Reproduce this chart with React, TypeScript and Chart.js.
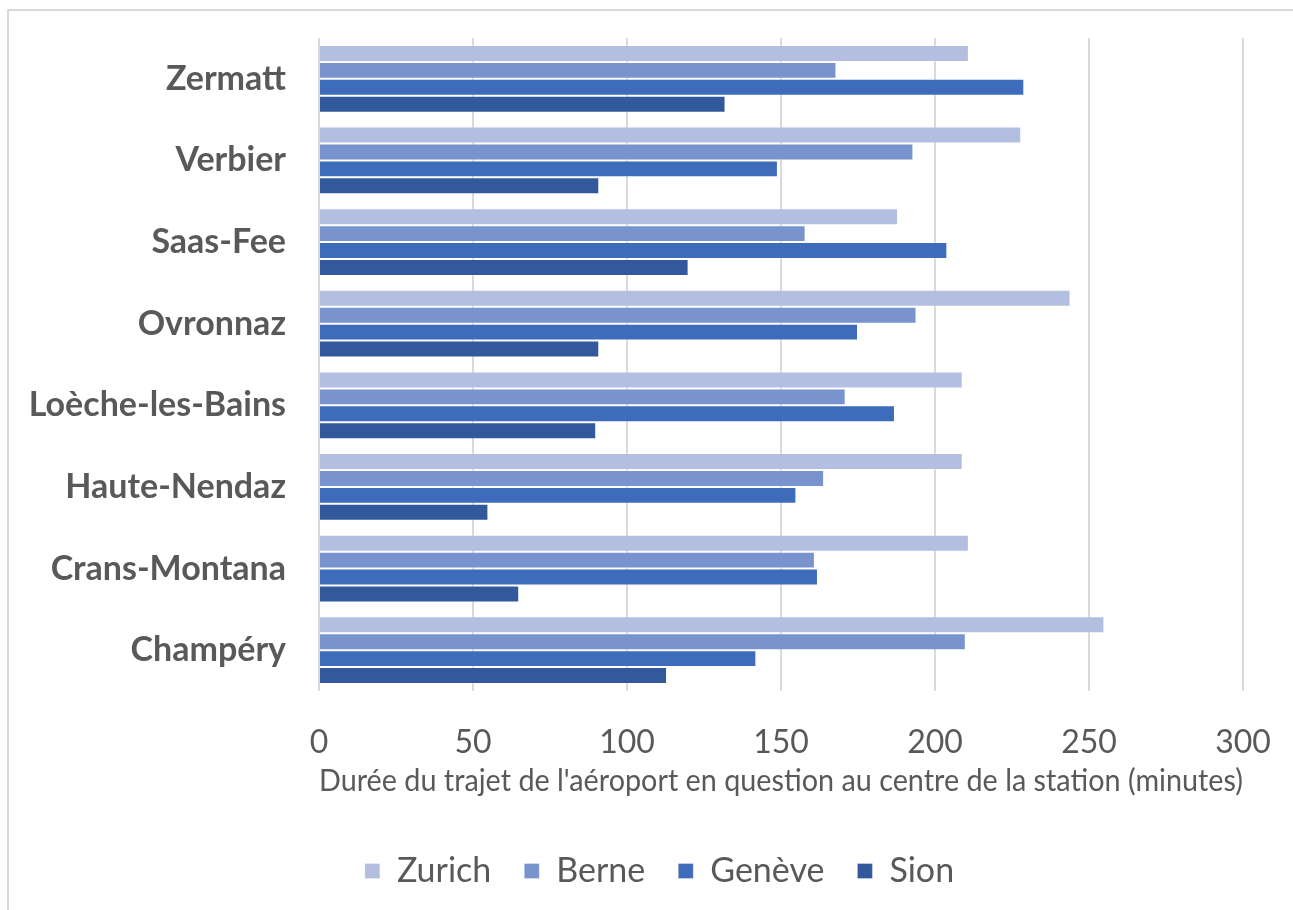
import React, { useEffect, useRef } from "react";
import { Chart, registerables } from "chart.js";

Chart.register(...registerables);

// Ski resorts, top to bottom
const resorts = [
  "Zermatt",
  "Verbier",
  "Saas-Fee",
  "Ovronnaz",
  "Loèche-les-Bains",
  "Haute-Nendaz",
  "Crans-Montana",
  "Champéry",
];

// Travel time (minutes) from each airport to the resort centre
const zurich = [211, 228, 188, 244, 209, 209, 211, 255];
const berne = [168, 193, 158, 194, 171, 164, 161, 210];
const geneve = [229, 149, 204, 175, 187, 155, 162, 142];
const sion = [132, 91, 120, 91, 90, 55, 65, 113];

const seriesNames = ["Zurich", "Berne", "Genève", "Sion"];
const seriesColors = ["#b3bee0", "#7993cf", "#3f6cba", "#31599b"];

const axisTitle =
  "Durée du trajet de l'aéroport en question au centre de la station (minutes)";

const FONT = "Lato, 'Open Sans', sans-serif";
const TEXT = "#595959";

// Light frame along the top and left of the chart
const framePlugin = {
  id: "frame",
  beforeDraw(chart: any) {
    const { ctx } = chart;
    ctx.save();
    ctx.strokeStyle = "#d9d9d9";
    ctx.lineWidth = 2;
    ctx.beginPath();
    ctx.moveTo(8, 910);
    ctx.lineTo(8, 10);
    ctx.lineTo(1293, 10);
    ctx.stroke();
    ctx.restore();
  },
};

// Centre the legend row on the whole frame rather than on the padded area
const legendShiftPlugin = {
  id: "legendShift",
  afterLayout(chart: any) {
    const lg = chart.legend;
    if (lg) {
      lg.left += 38;
      lg.right += 38;
    }
  },
};

export default function App() {
  const canvasRef = useRef<HTMLCanvasElement | null>(null);

  useEffect(() => {
    if (!canvasRef.current) return;
    const values = [zurich, berne, geneve, sion];
    const chart = new Chart(canvasRef.current, {
      type: "bar",
      data: {
        labels: resorts,
        datasets: seriesNames.map((name, i) => ({
          label: name,
          data: values[i],
          backgroundColor: seriesColors[i],
          borderColor: "rgba(255,255,255,0.3)",
          borderWidth: 1,
          categoryPercentage: 0.83,
          barPercentage: 1,
        })),
      },
      options: {
        indexAxis: "y",
        animation: false,
        responsive: false,
        maintainAspectRatio: false,
        layout: { padding: { top: 38, left: 0, right: 50, bottom: 12 } },
        plugins: {
          tooltip: { enabled: false },
          legend: {
            position: "bottom",
            labels: {
              boxWidth: 15,
              boxHeight: 15,
              padding: 33,
              color: TEXT,
              font: { family: FONT, size: 34 },
            },
          },
        },
        scales: {
          x: {
            min: 0,
            max: 300,
            ticks: {
              stepSize: 50,
              padding: 32,
              color: TEXT,
              font: { family: FONT, size: 32 },
            },
            grid: { color: "#d9d9d9", lineWidth: 2, drawTicks: false },
            border: { display: false },
            title: {
              display: true,
              text: axisTitle,
              color: TEXT,
              font: { family: FONT, size: 31 },
              padding: { top: 0, bottom: 21 },
            },
            afterFit(scale: any) {
              scale.height = 130;
              scale.paddingLeft = 0;
              scale.paddingRight = 0;
            },
          },
          y: {
            ticks: {
              padding: 33,
              color: TEXT,
              font: { family: FONT, size: 34, weight: "bold" },
            },
            grid: { display: false, drawTicks: false },
            border: { display: false },
            afterFit(scale: any) {
              scale.width = 319;
              scale.paddingTop = 0;
              scale.paddingBottom = 0;
            },
          },
        },
      },
      plugins: [framePlugin, legendShiftPlugin],
    } as any);
    return () => chart.destroy();
  }, []);

  return (
    <div
      style={{
        position: "fixed",
        left: 0,
        top: 0,
        width: 1293,
        height: 910,
        background: "#ffffff",
      }}
    >
      <canvas
        ref={canvasRef}
        width={1293}
        height={910}
        style={{ width: 1293, height: 910, display: "block" }}
      />
    </div>
  );
}
